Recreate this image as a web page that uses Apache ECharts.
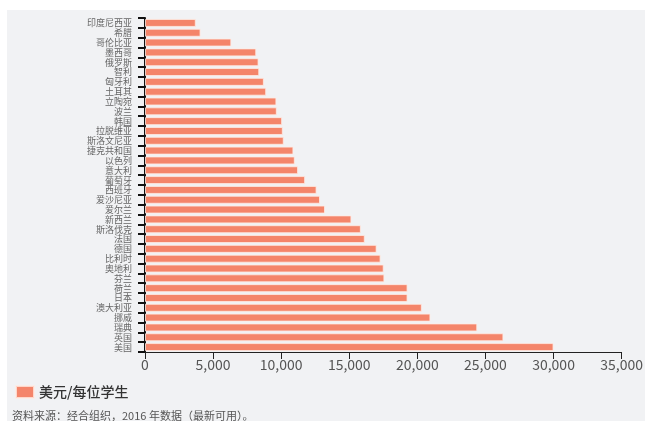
<!DOCTYPE html>
<html><head><meta charset="utf-8">
<script src="https://cdn.jsdelivr.net/npm/echarts@6/dist/echarts.min.js"></script>
<style>
html,body{margin:0;padding:0;background:#fff;}
#wrap{position:relative;width:646px;height:421px;background:#fff;overflow:hidden;}
#panel{position:absolute;left:7px;top:10px;width:638px;height:411px;background:#f1f2f4;}
#chart{position:absolute;left:0;top:0;width:646px;height:421px;}
</style></head>
<body>
<div id="wrap"><div id="panel"></div><div id="chart"></div></div>
<script>
const categories = ["印度尼西亚","希腊","哥伦比亚","墨西哥","俄罗斯","智利","匈牙利","土耳其","立陶宛","波兰","韩国","拉脱维亚","斯洛文尼亚","捷克共和国","以色列","意大利","葡萄牙","西班牙","爱沙尼亚","爱尔兰","新西兰","斯洛伐克","法国","德国","比利时","奥地利","芬兰","荷兰","日本","澳大利亚","挪威","瑞典","英国","美国"];
const values = [3730,4080,6340,8170,8340,8390,8730,8900,9650,9680,10070,10120,10190,10900,11000,11240,11760,12600,12850,13220,15160,15850,16140,17010,17300,17530,17580,19280,19280,20330,20960,24400,26320,30000];
const seriesName = "美元/每位学生";
const sourceText = "资料来源：经合组织，2016 年数据（最新可用）。";
const xTicks = {min:0, max:35000, interval:5000};

const chart = echarts.init(document.getElementById('chart'), null, {renderer:'canvas'});
const font = '"Noto Sans CJK SC","Noto Sans",sans-serif';
chart.setOption({
  backgroundColor:'transparent',
  animation:false,
  textStyle:{fontFamily:font},
  grid:{left:145,right:22,top:18,bottom:69,containLabel:false},
  xAxis:{type:'value',min:xTicks.min,max:xTicks.max,interval:xTicks.interval,
    axisLine:{show:true,lineStyle:{color:'#222',width:1}},
    axisTick:{show:true,length:7,lineStyle:{color:'#222',width:1}},
    axisLabel:{color:'#555',fontSize:14,margin:6,fontFamily:font,
      formatter:v=>v.toLocaleString('en-US')},
    splitLine:{show:false}},
  yAxis:{type:'category',data:categories,inverse:true,
    axisLine:{show:true,lineStyle:{color:'#111',width:2}},
    axisTick:{show:true,length:7,lineStyle:{color:'#111',width:2}},
    axisLabel:{color:'#666',fontSize:9,margin:13,fontFamily:font,interval:0}},
  legend:{show:true,left:10,top:380,icon:'rect',itemWidth:18,itemHeight:12,itemGap:10,
    textStyle:{color:'#333',fontSize:14,fontWeight:500,fontFamily:font},data:[seriesName]},
  title:{text:sourceText,left:7,top:405,textStyle:{color:'#555',fontSize:11,fontWeight:'normal',fontFamily:font}},
  series:[{name:seriesName,type:'bar',data:values,barWidth:8,
    itemStyle:{color:'#f4856a',borderColor:'rgba(255,235,228,0.8)',borderWidth:1}}]
});
</script>
</body></html>
